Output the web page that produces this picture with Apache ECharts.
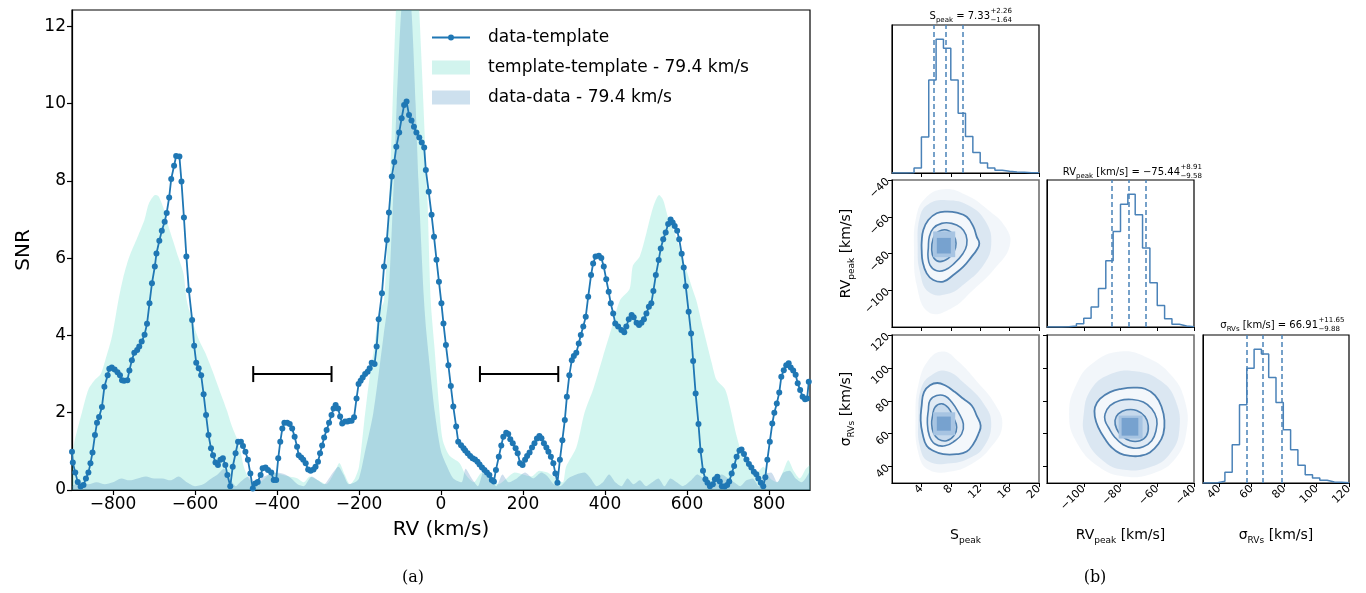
<!DOCTYPE html>
<html><head><meta charset="utf-8">
<script src="https://cdn.jsdelivr.net/npm/echarts@6/dist/echarts.min.js"></script>
<style>html,body{margin:0;padding:0;background:#fff}#c{width:1366px;height:593px}</style>
</head><body><div id="c"></div>
<script>
// ---------------- Panel (a) data ----------------
const xTicks = [-800,-600,-400,-200,0,200,400,600,800];
const yTicks = [0,2,4,6,8,10,12];
// data-template cross-correlation [RV km/s, SNR]
const dataTemplate = [
[-900,0.99],[-898,0.71],[-892,0.45],[-886,0.21],[-879,0.09],[-872,0.13],[-866,0.30],[-860,0.45],[-855,0.69],[-850,0.97],
[-844,1.42],[-839,1.74],[-834,1.89],[-827,2.15],[-821,2.67],[-813,2.97],[-809,3.14],[-803,3.17],[-796,3.12],[-789,3.05],
[-783,2.97],[-778,2.84],[-773,2.83],[-765,2.84],[-760,3.09],[-754,3.36],[-748,3.55],[-741,3.62],[-736,3.71],[-730,3.84],
[-723,4.02],[-717,4.30],[-711,4.83],[-705,5.35],[-698,5.78],[-694,6.12],[-687,6.45],[-681,6.71],[-674,6.94],[-669,7.17],
[-663,7.57],[-658,8.05],[-651,8.39],[-646,8.64],[-638,8.63],[-633,7.98],[-627,7.05],[-621,6.04],[-615,5.17],[-607,4.40],
[-602,3.73],[-597,3.29],[-591,3.15],[-585,2.97],[-579,2.48],[-573,1.94],[-567,1.42],[-561,1.08],[-556,0.90],[-550,0.71],
[-544,0.65],[-538,0.78],[-532,0.82],[-526,0.65],[-521,0.39],[-514,0.10],[-508,0.60],[-501,0.95],[-495,1.25],[-488,1.25],
[-483,1.14],[-477,0.99],[-471,0.78],[-465,0.43],[-459,0.04],[-453,0.17],[-447,0.21],[-440,0.39],[-435,0.56],[-428,0.58],
[-422,0.52],[-414,0.45],[-408,0.26],[-402,0.26],[-397,0.82],[-392,1.25],[-387,1.59],[-382,1.74],[-375,1.74],[-369,1.71],
[-363,1.59],[-357,1.38],[-351,1.12],[-347,0.90],[-341,0.84],[-336,0.78],[-330,0.69],[-324,0.53],[-318,0.50],[-311,0.53],
[-306,0.60],[-300,0.73],[-295,0.95],[-290,1.15],[-285,1.36],[-279,1.55],[-273,1.74],[-267,1.94],[-262,2.11],[-257,2.20],
[-251,2.11],[-246,1.90],[-241,1.72],[-234,1.77],[-228,1.77],[-223,1.79],[-218,1.79],[-212,1.88],[-206,2.37],[-201,2.74],
[-196,2.83],[-191,2.91],[-185,3.00],[-179,3.06],[-174,3.15],[-169,3.29],[-162,3.26],[-157,3.71],[-152,4.42],[-144,5.09],
[-139,5.78],[-132,6.47],[-127,7.18],[-120,8.11],[-114,8.49],[-109,8.88],[-102,9.25],[-96,9.62],[-90,9.96],[-84,10.05],
[-78,9.70],[-72,9.56],[-66,9.40],[-60,9.25],[-53,9.12],[-47,8.99],[-41,8.86],[-37,8.28],[-30,7.72],[-23,7.12],
[-17,6.55],[-11,5.96],[-5,5.39],[1,4.83],[6,4.31],[12,3.75],[18,3.23],[24,2.69],[30,2.16],[37,1.64],
[42,1.25],[49,1.16],[55,1.08],[59,1.02],[65,0.95],[71,0.88],[77,0.82],[83,0.79],[89,0.73],[94,0.66],
[100,0.58],[106,0.52],[112,0.45],[118,0.39],[124,0.26],[129,0.22],[134,0.52],[141,0.86],[147,1.15],[152,1.38],
[159,1.48],[164,1.45],[169,1.31],[175,1.21],[182,1.08],[187,0.95],[193,0.69],[199,0.65],[205,0.78],[210,0.88],
[216,0.97],[222,1.10],[228,1.21],[234,1.33],[240,1.40],[245,1.34],[251,1.21],[257,1.10],[262,0.99],[268,0.86],
[274,0.69],[279,0.43],[284,0.19],[290,0.78],[296,1.29],[302,1.81],[307,2.41],[313,2.97],[319,3.36],[324,3.47],
[330,3.55],[336,3.79],[341,4.01],[347,4.23],[353,4.48],[359,5.00],[366,5.56],[371,5.86],[377,6.04],[385,6.06],
[391,6.00],[397,5.78],[403,5.45],[409,5.13],[414,4.83],[420,4.57],[425,4.31],[432,4.23],[440,4.14],[447,4.08],
[452,4.23],[458,4.42],[465,4.53],[470,4.47],[477,4.33],[483,4.27],[489,4.33],[495,4.42],[501,4.57],[507,4.74],
[513,4.83],[518,5.15],[524,5.56],[531,5.95],[536,6.25],[542,6.49],[548,6.66],[554,6.88],[560,7.00],[565,6.92],
[570,6.83],[576,6.71],[581,6.49],[587,6.11],[592,5.76],[597,5.27],[604,4.61],[610,4.05],[615,3.34],[621,2.50],
[628,1.71],[633,1.02],[639,0.50],[645,0.28],[650,0.19],[656,0.10],[663,0.15],[668,0.28],[674,0.34],[680,0.22],
[685,0.10],[692,0.09],[698,0.13],[703,0.22],[709,0.43],[715,0.62],[721,0.86],[728,1.02],[733,1.05],[739,0.93],
[745,0.79],[751,0.67],[757,0.58],[763,0.47],[769,0.41],[774,0.30],[780,0.19],[786,0.10],[791,0.33],[796,0.78],
[802,1.25],[808,1.72],[813,2.00],[819,2.24],[825,2.52],[830,2.93],[836,3.10],[842,3.23],[848,3.28],[853,3.17],
[859,3.09],[865,2.98],[870,2.76],[876,2.59],[882,2.41],[888,2.35],[893,2.37],[897,2.80]
];
// template-template auto-correlation (filled)
const templateTemplate = [
[-900,0.9],[-893,1.3],[-876,2.0],[-860,2.6],[-844,2.85],[-830,3.0],[-819,3.35],[-803,3.95],[-787,4.9],[-775,5.5],
[-766,5.85],[-758,6.1],[-738,6.6],[-723,7.0],[-713,7.4],[-697,7.63],[-689,7.6],[-677,7.3],[-664,6.8],[-652,6.4],
[-640,6.0],[-628,5.6],[-620,4.9],[-607,4.4],[-591,3.9],[-575,3.55],[-558,3.1],[-534,2.4],[-522,2.05],[-510,1.65],
[-493,1.2],[-481,0.6],[-469,0.3],[-460,0.2],[-450,0.15],[-430,0.3],[-410,0.45],[-390,0.4],[-370,0.35],[-350,0.3],
[-335,0.2],[-320,0.35],[-300,0.25],[-280,0.15],[-260,0.45],[-248,0.7],[-235,0.4],[-222,0.15],[-210,0.3],[-200,0.6],
[-188,1.7],[-175,2.85],[-163,3.7],[-151,4.6],[-139,4.9],[-126,7.5],[-110,12.4],[-95,15.2],[-82,16.0],[-68,15.2],
[-53,12.4],[-33,7.5],[-25,4.9],[-16,3.7],[-5,2.2],[4,1.3],[20,0.9],[45,0.7],[60,0.4],[80,0.2],
[100,0.45],[120,0.3],[140,0.15],[160,0.3],[180,0.45],[200,0.4],[220,0.35],[240,0.5],[260,0.45],[280,0.3],
[297,0.2],[305,0.6],[330,1.1],[350,2.0],[371,2.6],[395,3.45],[415,4.15],[436,4.9],[460,5.2],[468,5.8],
[485,6.05],[501,6.65],[517,7.3],[532,7.63],[542,7.5],[554,7.05],[570,6.65],[591,5.95],[615,5.15],[623,4.9],
[640,4.15],[660,3.3],[672,2.85],[693,2.6],[705,2.15],[721,1.4],[737,0.85],[754,0.6],[770,0.45],[786,0.6],
[803,0.3],[820,0.2],[835,0.5],[847,0.77],[860,0.5],[875,0.3],[890,0.55],[900,0.65]
];
// data-data auto-correlation (filled)
const dataData = [
[-900,0.1],[-880,0.2],[-860,0.15],[-840,0.2],[-820,0.15],[-800,0.2],[-780,0.3],[-760,0.25],[-740,0.3],[-720,0.35],
[-700,0.3],[-680,0.3],[-660,0.25],[-640,0.35],[-620,0.2],[-600,0.1],[-580,0.15],[-560,0.3],[-545,0.4],[-530,0.55],
[-515,0.3],[-500,0.1],[-490,0.2],[-470,0.35],[-455,0.15],[-440,0.3],[-420,0.4],[-400,0.45],[-380,0.4],[-365,0.3],
[-350,0.15],[-335,0.1],[-315,0.35],[-300,0.25],[-285,0.15],[-270,0.35],[-250,0.6],[-238,0.4],[-225,0.15],[-210,0.2],
[-200,0.3],[-185,1.0],[-165,2.0],[-140,4.0],[-128,5.0],[-115,8.0],[-108,10.0],[-97,12.4],[-85,13.6],[-72,12.4],
[-62,10.0],[-55,8.0],[-42,5.0],[-35,4.0],[-15,2.0],[0,1.0],[15,0.6],[30,0.3],[50,0.2],[60,0.55],
[75,0.3],[90,0.1],[105,0.5],[120,0.3],[135,0.1],[150,0.4],[165,0.2],[185,0.3],[205,0.45],[225,0.3],
[245,0.45],[260,0.35],[275,0.15],[290,0.1],[310,0.3],[330,0.4],[350,0.45],[365,0.3],[380,0.1],[395,0.2],
[410,0.4],[425,0.2],[440,0.1],[455,0.3],[470,0.15],[485,0.25],[500,0.1],[515,0.2],[530,0.3],[545,0.1],
[560,0.3],[575,0.2],[590,0.1],[610,0.25],[625,0.4],[640,0.3],[655,0.15],[670,0.35],[685,0.4],[700,0.3],
[715,0.2],[730,0.1],[745,0.25],[760,0.3],[775,0.1],[790,0.4],[805,0.45],[820,0.2],[835,0.45],[850,0.5],
[865,0.3],[880,0.2],[900,0.5]
];
// horizontal error bars [RV start, RV end, SNR]
const errBars = [[-458,-267,3.0],[95,286,3.0]];

// ---------------- Panel (b) data ----------------
const sEdges = [0,1,2,3,4,5,6,7,8,9,10,11,12,13,14,15,16,17,18,19,20];
const sCounts = [0,0,1,15,108,280,402,375,280,180,110,62,30,15,8,5,3,2,1,1];
const sQuant = [5.69,7.33,9.59];
const rvEdges = [-120,-116,-112,-108,-104,-100,-96,-92,-88,-84,-80,-76,-72,-68,-64,-60,-56,-52,-48,-44,-40];
const rvCounts = [0,0,1,3,10,26,60,116,200,288,370,400,338,238,133,65,25,8,3,1];
const rvQuant = [-85.02,-75.44,-66.53];
const sigEdges = [30,34.5,39,43.5,48,52.5,57,61.5,66,70.5,75,79.5,84,88.5,93,97.5,102,106.5,111,115.5,120];
const sigCounts = [0,1,5,32,115,235,345,402,388,317,242,160,100,53,25,15,8,3,2,1];
const sigQuant = [57.03,66.91,78.56];
const sTicks = [4,8,12,16,20];
const rvTicks = [-100,-80,-60,-40];
const sigTicks = [40,60,80,100,120];

// S_peak vs RV_peak
const srvHazeOut = [[3.0,-78],[3.3,-60],[4.5,-50],[7,-45],[10,-48],[13,-56],[15.5,-66],[16,-76],[14,-88],[11,-100],[8,-110],[5,-112],[3.4,-98]];
const srvHazeIn = [[3.5,-77],[3.8,-60],[5,-53],[7.5,-51],[10.5,-54],[12.8,-63],[13.5,-75],[12.5,-86],[10,-96],[7.5,-102],[5,-101],[3.8,-90]];
const srvC1 = [[4.04,-73.6],[4.26,-67.2],[4.94,-61.8],[6.08,-58.1],[7.44,-57.2],[8.80,-57.8],[10.16,-60.0],[11.07,-65.4],[11.52,-70.8],[11.88,-74.5],[11.52,-78.1],[10.84,-81.7],[9.71,-87.2],[8.34,-91.7],[6.98,-95.3],[5.62,-94.4],[4.72,-90.8],[4.17,-84.4],[4.04,-78.1]];
const srvC2 = [[4.94,-77.2],[5.08,-70.8],[5.62,-66.3],[6.76,-63.6],[8.12,-63.6],[9.34,-65.8],[10.07,-69.9],[10.16,-75.4],[9.61,-80.3],[8.57,-85.0],[7.21,-89.0],[5.99,-89.3],[5.17,-86.3],[4.90,-81.7]];
const srvC3 = [[5.40,-78.1],[5.62,-71.7],[6.30,-68.1],[7.44,-67.2],[8.34,-69.9],[8.71,-74.5],[8.43,-79.0],[7.66,-82.6],[6.53,-84.4],[5.71,-82.6]];
const srvCore = [[[5.6,-82],[8.6,-68]],[[6.1,-80],[8.0,-71.5]]];
// S_peak vs sigma
const ssgHazeOut = [[3.2,70],[3.6,90],[5,105],[7,110],[9,104],[11.5,92],[14,78],[15,65],[13.5,52],[11,42],[8,37],[5,38],[3.6,48]];
const ssgHazeIn = [[3.6,70],[4,88],[5.5,96],[7.5,98],[10,90],[12.5,78],[13.5,66],[12.5,52],[10.5,45],[8,42],[5,43],[3.8,52]];
const ssgC1 = [[4.04,77.1],[4.35,85.3],[5.17,89.4],[6.17,90.8],[7.21,89.4],[8.57,85.3],[9.71,81.2],[10.84,77.1],[11.52,71.0],[12.06,64.9],[11.75,59.8],[11.07,53.7],[10.16,49.2],[8.80,47.5],[6.98,47.5],[5.62,49.6],[4.72,52.6],[4.17,59.8],[3.90,68.0]];
const ssgC2 = [[4.94,74.1],[5.17,80.2],[6.08,83.2],[7.21,82.9],[8.12,79.2],[9.02,73.1],[9.71,65.9],[9.48,59.8],[8.57,55.7],[7.21,52.6],[5.85,53.7],[5.08,58.8],[4.81,66.9]];
const ssgC3 = [[5.53,71.0],[5.85,76.1],[6.76,78.2],[7.66,75.7],[8.34,70.0],[8.80,63.9],[8.43,58.8],[7.44,55.7],[6.30,56.7],[5.62,60.8],[5.40,65.9]];
const ssgCore = [[[5.6,59],[8.6,73]],[[6.1,61.8],[8.0,70.4]]];
// RV_peak vs sigma
const rsgHazeOut = [[-108,72],[-104,90],[-95,103],[-80,110],[-65,106],[-52,95],[-45,80],[-44,62],[-50,45],[-62,36],[-78,34],[-92,40],[-104,55]];
const rsgHazeIn = [[-100,72],[-96,87],[-86,96],[-72,98],[-58,92],[-50,80],[-48,62],[-53,48],[-63,40],[-78,38],[-90,44],[-99,58]];
const rsgC1 = [[-93.9,76.1],[-91.2,81.2],[-85.7,85.3],[-79.4,87.3],[-73.0,88.0],[-66.7,87.3],[-61.2,83.3],[-57.6,76.1],[-56.1,68.0],[-56.7,59.8],[-59.4,53.7],[-64.0,48.6],[-69.4,46.5],[-74.8,46.5],[-80.3,48.0],[-84.8,51.6],[-88.4,56.7],[-92.1,63.9],[-93.9,70.0]];
const rsgC2 = [[-88.4,72.0],[-85.7,77.1],[-80.3,80.2],[-73.9,80.8],[-67.6,79.2],[-63.0,75.1],[-60.3,69.0],[-60.7,61.8],[-63.0,55.7],[-67.6,52.0],[-73.0,51.2],[-78.5,53.3],[-83.0,57.7],[-86.6,63.9],[-88.4,68.0]];
const rsgC3 = [[-83.0,68.0],[-81.2,72.0],[-76.6,74.5],[-71.2,74.1],[-66.7,70.4],[-64.9,64.9],[-65.8,58.8],[-69.4,55.7],[-74.8,55.7],[-79.4,58.8],[-82.1,62.9]];
const rsgCore = [[[-81,57],[-68,71]],[[-79.4,58.8],[-70.3,69.6]]];

// ---------------- build ----------------
const FONT = 'DejaVu Sans';
const BLUE = '#1f77b4';
const CB = '#4a82b8';
const minus = v => (v < 0 ? '\u2212' + Math.abs(v) : String(v));
const chart = echarts.init(document.getElementById('c'), null, {renderer: 'canvas'});

function stepData(edges, counts) {
  const d = [[edges[0], 0]];
  for (let i = 0; i < counts.length; i++) d.push([edges[i], counts[i]]);
  d.push([edges[edges.length - 1], counts[counts.length - 1]]);
  d.push([edges[edges.length - 1], 0]);
  return d;
}
function poly(xi, pts, fill, stroke, lw, z) {
  return {type: 'custom', xAxisIndex: xi, yAxisIndex: xi, clip: true, z: z, silent: true,
    data: [pts[0]],
    renderItem: (p, api) => ({type: 'polygon',
      shape: {points: pts.map(q => api.coord(q)), smooth: 0.45},
      style: {fill: fill, stroke: stroke || null, lineWidth: lw || 0}})};
}
function rect(xi, r, fill, z) {
  return {type: 'custom', xAxisIndex: xi, yAxisIndex: xi, clip: true, z: z, silent: true,
    data: [r[0]],
    renderItem: (p, api) => {
      const a = api.coord(r[0]), b = api.coord(r[1]);
      return {type: 'rect', shape: {x: Math.min(a[0], b[0]), y: Math.min(a[1], b[1]), width: Math.abs(b[0] - a[0]), height: Math.abs(b[1] - a[1])}, style: {fill: fill}};
    }};
}
function hist(xi, edges, counts, q) {
  return {type: 'line', xAxisIndex: xi, yAxisIndex: xi, step: 'end', symbol: 'none', silent: true,
    data: stepData(edges, counts), lineStyle: {color: CB, width: 1.5}, z: 3,
    markLine: {silent: true, symbol: 'none', label: {show: false},
      lineStyle: {color: CB, width: 1.5, type: [5, 3]},
      data: q.map(v => ({xAxis: v}))}};
}
function density(xi, hOut, hIn, c1, c2, c3, core) {
  return [
    poly(xi, hOut, 'rgba(70,130,190,0.07)', null, 0, 1),
    poly(xi, hIn, 'rgba(70,130,190,0.13)', null, 0, 2),
    poly(xi, c1, '#f3f7fb', '#4f80b0', 1.8, 3),
    poly(xi, c2, '#e0eaf4', '#4f80b0', 1.6, 4),
    poly(xi, c3, '#c6d9ec', '#4f80b0', 1.6, 5),
    rect(xi, core[0], '#a7c4e2', 6),
    rect(xi, core[1], '#77a2cf', 7)
  ];
}
const sub = (fs) => ({
  m: {fontFamily: FONT, fontSize: fs, color: '#000', lineHeight: fs + 6, verticalAlign: 'middle'},
  s: {fontFamily: FONT, fontSize: Math.round(fs * 0.65), color: '#000', lineHeight: Math.round(fs * 0.65), verticalAlign: 'bottom'}
});
function cxAxis(gi, min, max, ticks, showLab, name) {
  return {type: 'value', gridIndex: gi, min: min, max: max,
    axisLine: {show: true, onZero: false, lineStyle: {color: '#000', width: 1}},
    axisTick: {show: true, length: 4, customValues: ticks, lineStyle: {color: '#000'}},
    axisLabel: {show: showLab, customValues: ticks, rotate: 45, margin: 4, fontSize: 11, fontFamily: FONT, color: '#000', formatter: minus},
    splitLine: {show: false},
    name: name || '', nameLocation: 'middle', nameGap: 42, nameTextStyle: {rich: sub(14)}};
}
function cyAxis(gi, min, max, ticks, showTick, showLab, name) {
  return {type: 'value', gridIndex: gi, min: min, max: max,
    axisLine: {show: true, onZero: false, lineStyle: {color: '#000', width: 1}},
    axisTick: {show: showTick, length: 4, customValues: ticks, lineStyle: {color: '#000'}},
    axisLabel: {show: showLab, customValues: ticks, rotate: 45, margin: 4, fontSize: 11, fontFamily: FONT, color: '#000', formatter: minus},
    splitLine: {show: false},
    name: name || '', nameLocation: 'middle', nameGap: 36, nameRotate: 90, nameTextStyle: {rich: sub(14)}};
}
const cg = (l, t, w, h, bc, bw) => ({left: l, top: t, width: w, height: h, show: true, borderColor: bc, borderWidth: bw, backgroundColor: 'transparent'});

function title(x, y, main, sup, sb) {
  return [
    {type: 'text', x: x, y: y, silent: true, style: {text: main, rich: sub(10), align: 'right', verticalAlign: 'middle'}},
    {type: 'text', x: x + 0.5, y: y - 4.5, silent: true, style: {text: sup, fontFamily: FONT, fontSize: 7, fill: '#000', align: 'left', verticalAlign: 'middle'}},
    {type: 'text', x: x + 0.5, y: y + 4, silent: true, style: {text: sb, fontFamily: FONT, fontSize: 7, fill: '#000', align: 'left', verticalAlign: 'middle'}}
  ];
}
// legend icon for the line+marker entry: 38x14 box, 2px line, 6px dot (tiny corner specks fix the box)
const lineMarkerIcon = 'path://M0,0L0.01,0L0,0.01Z M38,14L37.99,14L38,13.99Z M0,6L38,6L38,8L0,8Z M16,7A3,3,0,1,1,22,7A3,3,0,1,1,16,7Z';

const option = {
  animation: false,
  backgroundColor: '#fff',
  grid: [
    {left: 72, top: 10, width: 738, height: 480, show: true, borderColor: '#000', borderWidth: 1.2, backgroundColor: 'transparent'},
    cg(892, 25, 147, 148, '#000', 1.2),
    cg(892, 180, 147, 147, '#707070', 1.6),
    cg(1047, 180, 147, 147, '#000', 1.2),
    cg(892, 335, 147, 148, '#707070', 1.6),
    cg(1047, 335, 147, 148, '#707070', 1.6),
    cg(1203, 335, 146, 148, '#000', 1.2)
  ],
  xAxis: [
    {type: 'value', gridIndex: 0, min: -900, max: 900,
      axisLine: {show: true, onZero: false, lineStyle: {color: '#000', width: 1.2}},
      axisTick: {show: true, length: 5, customValues: xTicks, lineStyle: {color: '#000', width: 1.2}},
      axisLabel: {customValues: xTicks, formatter: minus, fontFamily: FONT, fontSize: 17, color: '#000', margin: 6},
      splitLine: {show: false},
      name: 'RV (km/s)', nameLocation: 'middle', nameGap: 30, nameTextStyle: {fontFamily: FONT, fontSize: 20, color: '#000'}},
    cxAxis(1, 0, 20, sTicks, false),
    cxAxis(2, 0, 20, sTicks, false),
    cxAxis(3, -120, -40, rvTicks, false),
    cxAxis(4, 0, 20, sTicks, true, '{m|S}{s|peak}'),
    cxAxis(5, -120, -40, rvTicks, true, '{m|RV}{s|peak}{m| [km/s]}'),
    cxAxis(6, 30, 120, sigTicks, true, '{m|σ}{s|RVs}{m| [km/s]}')
  ],
  yAxis: [
    {type: 'value', gridIndex: 0, min: 0, max: 12.42,
      axisLine: {show: true, onZero: false, lineStyle: {color: '#000', width: 1.2}},
      axisTick: {show: true, length: 5, customValues: yTicks, lineStyle: {color: '#000', width: 1.2}},
      axisLabel: {customValues: yTicks, fontFamily: FONT, fontSize: 17, color: '#000', margin: 6},
      splitLine: {show: false},
      name: 'SNR', nameLocation: 'middle', nameGap: 35, nameRotate: 90, nameTextStyle: {fontFamily: FONT, fontSize: 20, color: '#000'}},
    cyAxis(1, 0, 445, [], false, false),
    cyAxis(2, -120, -40, rvTicks, true, true, '{m|RV}{s|peak}{m| [km/s]}'),
    cyAxis(3, 0, 443, [], false, false),
    cyAxis(4, 30, 120, sigTicks, true, true, '{m|σ}{s|RVs}{m| [km/s]}'),
    cyAxis(5, 30, 120, sigTicks, true, false),
    cyAxis(6, 0, 445, [], false, false)
  ],
  legend: {
    orient: 'vertical', left: 432, top: 29, padding: 0, itemWidth: 38, itemHeight: 14, itemGap: 13,
    selectedMode: false,
    textStyle: {fontFamily: FONT, fontSize: 17, color: '#000', padding: [0, 0, 0, 13]},
    data: [{name: 'data-template', icon: lineMarkerIcon}, {name: 'template-template - 79.4 km/s', icon: 'rect'}, {name: 'data-data - 79.4 km/s', icon: 'rect'}]
  },
  series: [
    {name: 'template-template - 79.4 km/s', type: 'line', xAxisIndex: 0, yAxisIndex: 0, data: templateTemplate,
      symbol: 'none', smooth: 0.25, lineStyle: {width: 0}, itemStyle: {color: '#d2f4ee'},
      areaStyle: {color: 'rgba(64,214,190,0.23)', opacity: 1}, z: 1, silent: true},
    {name: 'data-data - 79.4 km/s', type: 'line', xAxisIndex: 0, yAxisIndex: 0, data: dataData,
      symbol: 'none', smooth: 0.25, lineStyle: {width: 0}, itemStyle: {color: '#cde0ee'},
      areaStyle: {color: 'rgba(55,125,185,0.25)', opacity: 1}, z: 2, silent: true},
    {name: 'data-template', type: 'line', xAxisIndex: 0, yAxisIndex: 0, data: dataTemplate,
      symbol: 'circle', symbolSize: 6, showAllSymbol: true, lineStyle: {color: BLUE, width: 1.8},
      itemStyle: {color: BLUE}, z: 4, silent: true},
    {type: 'custom', xAxisIndex: 0, yAxisIndex: 0, data: errBars, z: 5, silent: true,
      renderItem: (p, api) => {
        const a = api.coord([api.value(0), api.value(2)]);
        const b = api.coord([api.value(1), api.value(2)]);
        const st = {stroke: '#000', lineWidth: 2};
        return {type: 'group', children: [
          {type: 'line', shape: {x1: a[0], y1: a[1], x2: b[0], y2: b[1]}, style: st},
          {type: 'line', shape: {x1: a[0], y1: a[1] - 8, x2: a[0], y2: a[1] + 8}, style: st},
          {type: 'line', shape: {x1: b[0], y1: b[1] - 8, x2: b[0], y2: b[1] + 8}, style: st}
        ]};
      }},
    hist(1, sEdges, sCounts, sQuant),
    hist(3, rvEdges, rvCounts, rvQuant),
    hist(6, sigEdges, sigCounts, sigQuant),
    ...density(2, srvHazeOut, srvHazeIn, srvC1, srvC2, srvC3, srvCore),
    ...density(4, ssgHazeOut, ssgHazeIn, ssgC1, ssgC2, ssgC3, ssgCore),
    ...density(5, rsgHazeOut, rsgHazeIn, rsgC1, rsgC2, rsgC3, rsgCore)
  ],
  graphic: [
    ...title(990, 16, '{m|S}{s|peak}{m| = 7.33}', '+2.26', '\u22121.64'),
    ...title(1180, 172, '{m|RV}{s|peak}{m| [km/s] = \u221275.44}', '+8.91', '\u22129.58'),
    ...title(1318, 325, '{m|σ}{s|RVs}{m| [km/s] = 66.91}', '+11.65', '\u22129.88'),
    {type: 'text', x: 413, y: 578, silent: true, style: {text: '(a)', fontFamily: 'DejaVu Serif', fontSize: 16, fill: '#000', align: 'center', verticalAlign: 'middle'}},
    {type: 'text', x: 1095, y: 578, silent: true, style: {text: '(b)', fontFamily: 'DejaVu Serif', fontSize: 16, fill: '#000', align: 'center', verticalAlign: 'middle'}}
  ]
};
chart.setOption(option);
</script>
</body></html>
